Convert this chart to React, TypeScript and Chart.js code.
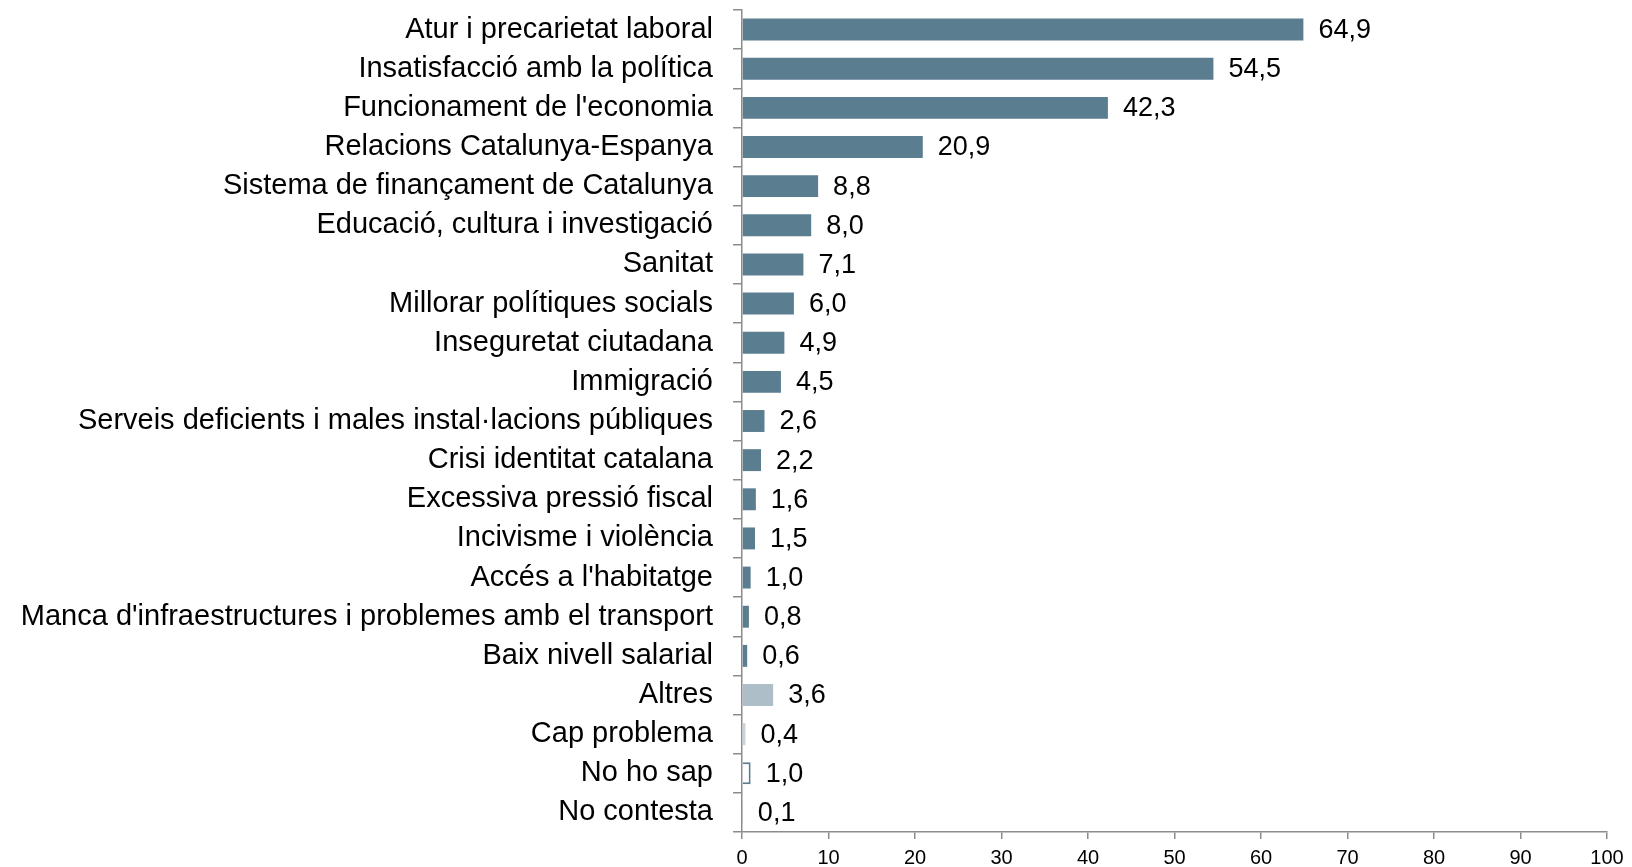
import React, { useEffect, useRef } from "react";
import { Chart, registerables } from "chart.js";

Chart.register(...registerables);

const categories = [
  "Atur i precarietat laboral",
  "Insatisfacció amb la política",
  "Funcionament de l'economia",
  "Relacions Catalunya-Espanya",
  "Sistema de finançament de Catalunya",
  "Educació, cultura i investigació",
  "Sanitat",
  "Millorar polítiques socials",
  "Inseguretat ciutadana",
  "Immigració",
  "Serveis deficients i males instal·lacions públiques",
  "Crisi identitat catalana",
  "Excessiva pressió fiscal",
  "Incivisme i violència",
  "Accés a l'habitatge",
  "Manca d'infraestructures i problemes amb el transport",
  "Baix nivell salarial",
  "Altres",
  "Cap problema",
  "No ho sap",
  "No contesta",
];

const values = [64.9, 54.5, 42.3, 20.9, 8.8, 8.0, 7.1, 6.0, 4.9, 4.5, 2.6, 2.2, 1.6, 1.5, 1.0, 0.8, 0.6, 3.6, 0.4, 1.0, 0.1];

const xTicks = [0, 10, 20, 30, 40, 50, 60, 70, 80, 90, 100];

const MAIN = "#5b7d90";
const barColors = categories.map((c) =>
  c === "Altres" ? "#adbec9" : c === "Cap problema" ? "#c8d3da" : c === "No ho sap" ? "#ffffff" : MAIN
);
const borderColors = categories.map((c) => (c === "No ho sap" ? MAIN : "rgba(0,0,0,0)"));
const borderWidths = categories.map((c) => (c === "No ho sap" ? 2 : 0));

const FONT = "'Liberation Sans', Arial, sans-serif";

const valueLabels = {
  id: "valueLabels",
  afterDatasetsDraw(chart: any) {
    const ctx = chart.ctx;
    const meta = chart.getDatasetMeta(0);
    ctx.save();
    ctx.font = `27px ${FONT}`;
    ctx.fillStyle = "#000";
    ctx.textAlign = "left";
    ctx.textBaseline = "middle";
    meta.data.forEach((bar: any, i: number) => {
      const txt = values[i].toFixed(1).replace(".", ",");
      ctx.fillText(txt, bar.x + 15, bar.y + 1);
    });
    ctx.restore();
  },
};

export default function App() {
  const ref = useRef<HTMLCanvasElement>(null);
  useEffect(() => {
    document.body.style.margin = "0";
    const chart = new Chart(ref.current!, {
      type: "bar",
      data: {
        labels: categories,
        datasets: [
          {
            data: values,
            backgroundColor: barColors,
            borderColor: borderColors,
            borderWidth: borderWidths,
            barPercentage: 0.56,
            categoryPercentage: 1,
          },
        ],
      },
      options: {
        indexAxis: "y",
        animation: false,
        responsive: false,
        maintainAspectRatio: false,
        devicePixelRatio: 1,
        layout: { padding: { top: 10, right: 25, bottom: 0, left: 0 } },
        plugins: { legend: { display: false }, tooltip: { enabled: false } },
        scales: {
          x: {
            min: 0,
            max: 100,
            afterBuildTicks: (scale: any) => {
              scale.ticks = xTicks.map((v) => ({ value: v }));
            },
            afterFit: (scale: any) => {
              scale.height = 35;
              scale.paddingLeft = 0;
              scale.paddingRight = 0;
            },
            grid: { display: true, drawOnChartArea: false, drawTicks: true, tickLength: 7, color: "#8c8c8c", lineWidth: 1.5 },
            border: { display: true, color: "#8c8c8c", width: 1.5 },
            ticks: { font: { family: FONT, size: 20 }, color: "#000", padding: 7, maxRotation: 0, autoSkip: false },
          },
          y: {
            afterFit: (scale: any) => {
              scale.width = 742;
              scale.paddingTop = 0;
              scale.paddingBottom = 0;
            },
            grid: { display: true, offset: true, drawOnChartArea: false, drawTicks: true, tickLength: 9, color: "#8c8c8c", lineWidth: 1.5 },
            border: { display: true, color: "#8c8c8c", width: 1.5 },
            ticks: { font: { family: FONT, size: 29 }, color: "#000", padding: 20, autoSkip: false },
          },
        },
      },
      plugins: [valueLabels],
    });
    return () => chart.destroy();
  }, []);
  return (
    <div style={{ width: 1632, height: 867 }}>
      <canvas ref={ref} width={1632} height={867} style={{ width: 1632, height: 867, display: "block" }} />
    </div>
  );
}
